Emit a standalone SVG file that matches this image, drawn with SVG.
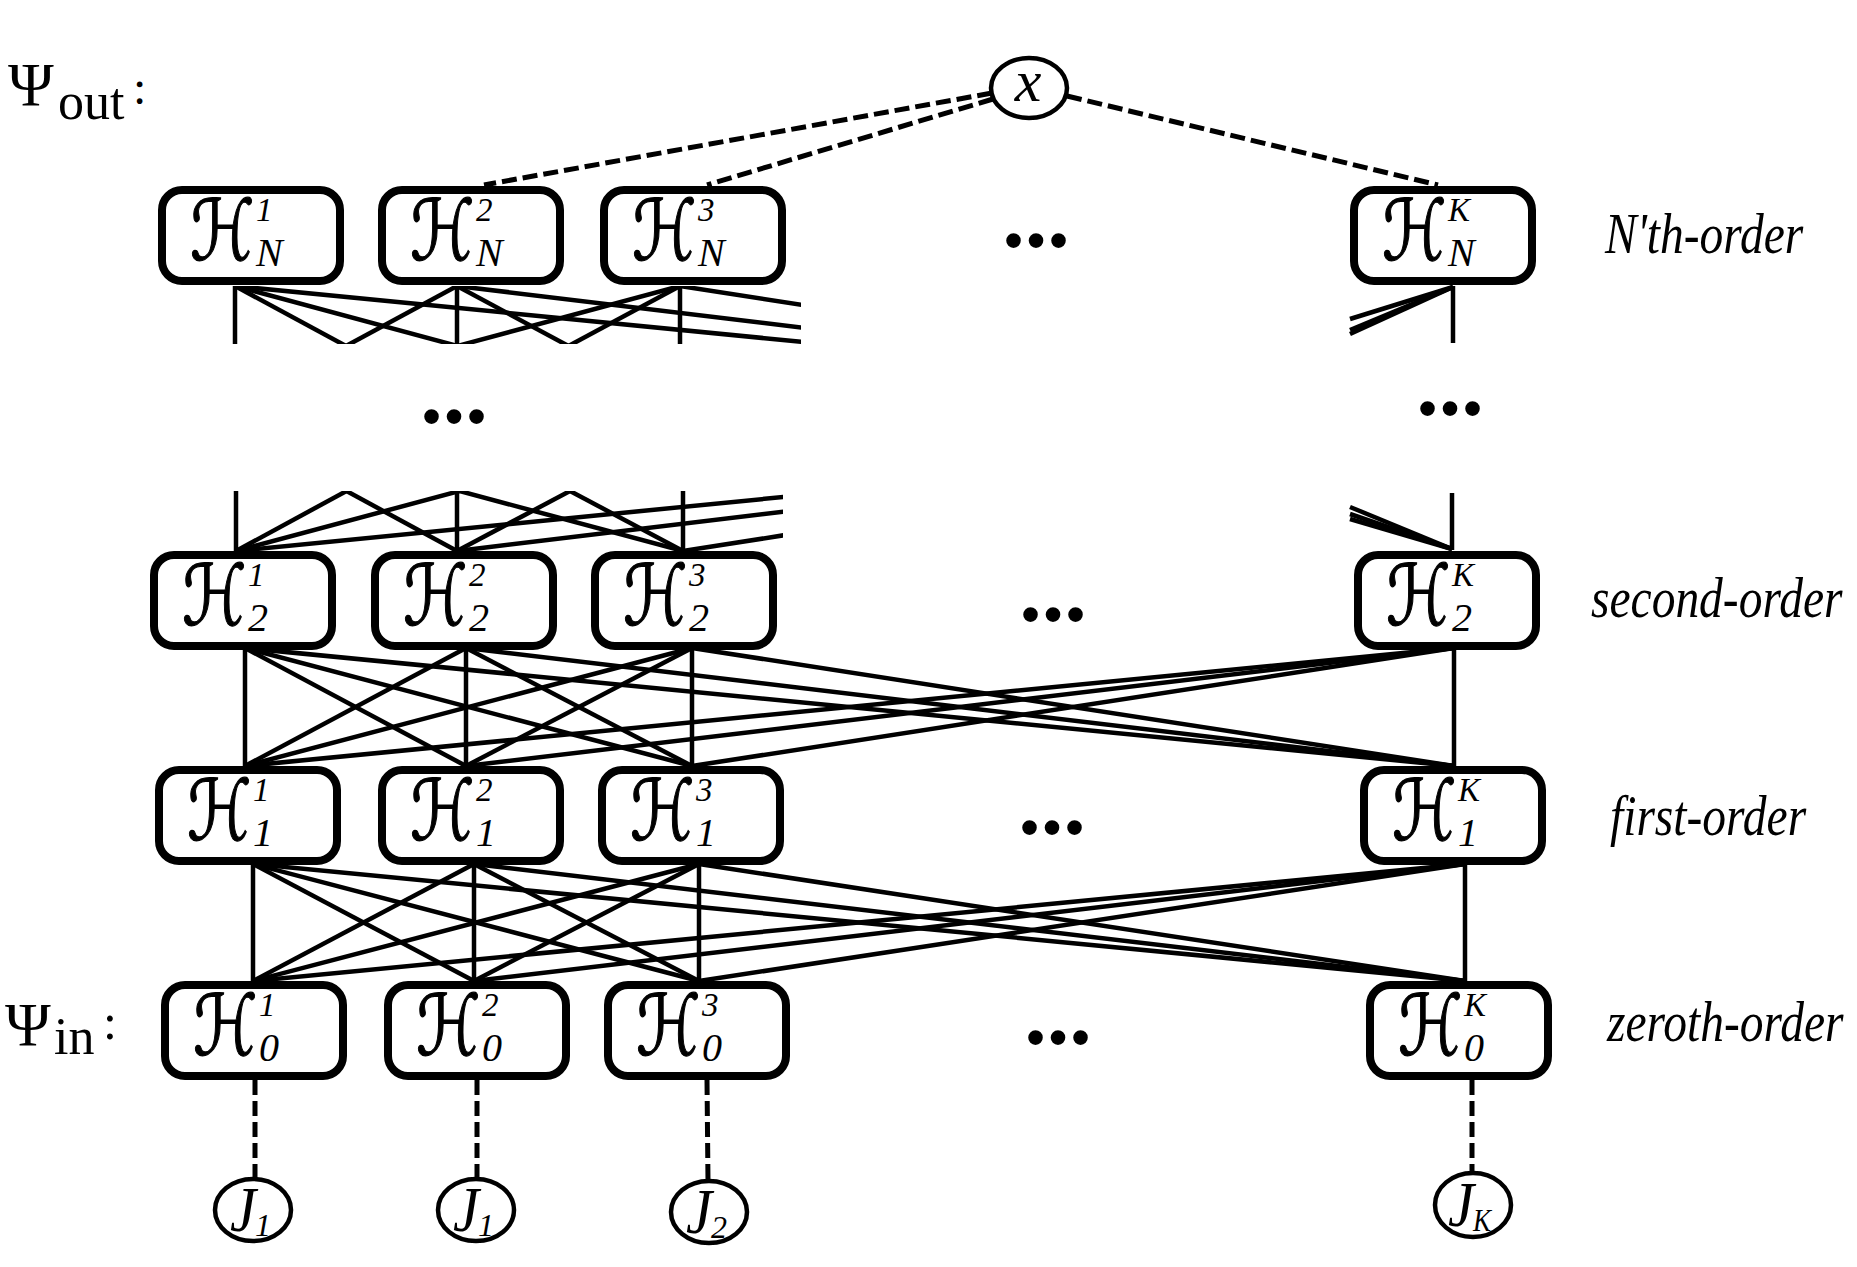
<svg xmlns="http://www.w3.org/2000/svg" width="1857" height="1267" viewBox="0 0 1857 1267">
<style>
.box{fill:#fff;stroke:#000;stroke-width:8}
.ln{stroke:#000;stroke-width:4.5;fill:none;stroke-linecap:butt}
.dash{stroke:#000;stroke-width:5;fill:none;stroke-dasharray:15 6}
.ell{fill:#fff;stroke:#000;stroke-width:4.5}
.H{font-family:"DejaVu Serif","DejaVu Sans",serif;font-size:84px;stroke:#000;stroke-width:1.2}
.sup{font-family:"Liberation Serif",serif;font-style:italic;font-size:33px}
.sub{font-family:"Liberation Serif",serif;font-style:italic;font-size:40px}
.lab{font-family:"Liberation Serif",serif;font-style:italic;font-size:47.5px}
.dots{font-family:"Liberation Serif",serif;font-weight:bold;font-size:90px;text-anchor:middle}
.psi{font-family:"Liberation Serif",serif;font-size:62px}
.psub{font-family:"Liberation Serif",serif;font-size:52px}
.J{font-family:"Liberation Serif",serif;font-style:italic;font-size:64px}
.Js{font-family:"Liberation Serif",serif;font-style:italic;font-size:32px}
text{fill:#000}
</style>
<defs>
<clipPath id="clipTop"><rect x="0" y="286" width="801" height="58"/></clipPath>
<clipPath id="clipBot"><rect x="0" y="491" width="783" height="60"/></clipPath>
</defs>

<g id="connectors">
  <line class="dash" x1="992" y1="93" x2="484" y2="185"/>
  <line class="dash" x1="993" y1="99" x2="707" y2="185"/>
  <line class="dash" x1="1067" y1="96" x2="1438" y2="185"/>
  <g clip-path="url(#clipTop)">
    <line class="ln" x1="235" y1="286" x2="235" y2="406"/>
    <line class="ln" x1="235" y1="286" x2="457" y2="406"/>
    <line class="ln" x1="235" y1="286" x2="680" y2="406"/>
    <line class="ln" x1="235" y1="286" x2="1453" y2="406"/>
    <line class="ln" x1="457" y1="286" x2="235" y2="406"/>
    <line class="ln" x1="457" y1="286" x2="457" y2="406"/>
    <line class="ln" x1="457" y1="286" x2="680" y2="406"/>
    <line class="ln" x1="457" y1="286" x2="1453" y2="406"/>
    <line class="ln" x1="680" y1="286" x2="235" y2="406"/>
    <line class="ln" x1="680" y1="286" x2="457" y2="406"/>
    <line class="ln" x1="680" y1="286" x2="680" y2="406"/>
    <line class="ln" x1="680" y1="286" x2="1453" y2="406"/>
  </g>
  <line class="ln" x1="1453" y1="286" x2="1453" y2="343"/>
  <line class="ln" x1="1453" y1="287" x2="1350" y2="319"/>
  <line class="ln" x1="1453" y1="287" x2="1350" y2="330"/>
  <line class="ln" x1="1453" y1="287" x2="1350" y2="334"/>
  <g clip-path="url(#clipBot)">
    <line class="ln" x1="236" y1="551" x2="236" y2="431"/>
    <line class="ln" x1="236" y1="551" x2="457" y2="431"/>
    <line class="ln" x1="236" y1="551" x2="683" y2="431"/>
    <line class="ln" x1="236" y1="551" x2="1452" y2="431"/>
    <line class="ln" x1="457" y1="551" x2="236" y2="431"/>
    <line class="ln" x1="457" y1="551" x2="457" y2="431"/>
    <line class="ln" x1="457" y1="551" x2="683" y2="431"/>
    <line class="ln" x1="457" y1="551" x2="1452" y2="431"/>
    <line class="ln" x1="683" y1="551" x2="236" y2="431"/>
    <line class="ln" x1="683" y1="551" x2="457" y2="431"/>
    <line class="ln" x1="683" y1="551" x2="683" y2="431"/>
    <line class="ln" x1="683" y1="551" x2="1452" y2="431"/>
  </g>
  <line class="ln" x1="1452" y1="493" x2="1452" y2="550"/>
  <line class="ln" x1="1452" y1="549" x2="1350" y2="507"/>
  <line class="ln" x1="1452" y1="549" x2="1350" y2="514"/>
  <line class="ln" x1="1452" y1="549" x2="1350" y2="519"/>
  <line class="ln" x1="245" y1="648" x2="245" y2="766"/>
  <line class="ln" x1="245" y1="648" x2="466" y2="766"/>
  <line class="ln" x1="245" y1="648" x2="692" y2="766"/>
  <line class="ln" x1="245" y1="648" x2="1454" y2="766"/>
  <line class="ln" x1="466" y1="648" x2="245" y2="766"/>
  <line class="ln" x1="466" y1="648" x2="466" y2="766"/>
  <line class="ln" x1="466" y1="648" x2="692" y2="766"/>
  <line class="ln" x1="466" y1="648" x2="1454" y2="766"/>
  <line class="ln" x1="692" y1="648" x2="245" y2="766"/>
  <line class="ln" x1="692" y1="648" x2="466" y2="766"/>
  <line class="ln" x1="692" y1="648" x2="692" y2="766"/>
  <line class="ln" x1="692" y1="648" x2="1454" y2="766"/>
  <line class="ln" x1="1454" y1="648" x2="245" y2="766"/>
  <line class="ln" x1="1454" y1="648" x2="466" y2="766"/>
  <line class="ln" x1="1454" y1="648" x2="692" y2="766"/>
  <line class="ln" x1="1454" y1="648" x2="1454" y2="766"/>
  <line class="ln" x1="253" y1="864" x2="253" y2="981"/>
  <line class="ln" x1="253" y1="864" x2="474" y2="981"/>
  <line class="ln" x1="253" y1="864" x2="699" y2="981"/>
  <line class="ln" x1="253" y1="864" x2="1465" y2="981"/>
  <line class="ln" x1="474" y1="864" x2="253" y2="981"/>
  <line class="ln" x1="474" y1="864" x2="474" y2="981"/>
  <line class="ln" x1="474" y1="864" x2="699" y2="981"/>
  <line class="ln" x1="474" y1="864" x2="1465" y2="981"/>
  <line class="ln" x1="699" y1="864" x2="253" y2="981"/>
  <line class="ln" x1="699" y1="864" x2="474" y2="981"/>
  <line class="ln" x1="699" y1="864" x2="699" y2="981"/>
  <line class="ln" x1="699" y1="864" x2="1465" y2="981"/>
  <line class="ln" x1="1465" y1="864" x2="253" y2="981"/>
  <line class="ln" x1="1465" y1="864" x2="474" y2="981"/>
  <line class="ln" x1="1465" y1="864" x2="699" y2="981"/>
  <line class="ln" x1="1465" y1="864" x2="1465" y2="981"/>
  <line class="dash" x1="255" y1="1080" x2="255" y2="1179"/>
  <line class="dash" x1="477" y1="1080" x2="477" y2="1179"/>
  <line class="dash" x1="707" y1="1080" x2="708" y2="1181"/>
  <line class="dash" x1="1472" y1="1080" x2="1472" y2="1173"/>
</g>

<text id="psi-out"><tspan class="psi" x="8" y="105">Ψ</tspan><tspan class="psub" x="58" y="119">out</tspan><tspan class="psi" x="133" y="104" style="font-size:48px">:</tspan></text>
<text id="psi-in"><tspan class="psi" x="5" y="1045">Ψ</tspan><tspan class="psub" x="54" y="1054">in</tspan><tspan class="psi" x="103" y="1039" style="font-size:50px">:</tspan></text>
<text class="lab" transform="translate(1605,253) scale(1,1.22)">N'th-order</text>
<text class="lab" transform="translate(1591,617) scale(1,1.22)">second-order</text>
<text class="lab" transform="translate(1610,835) scale(1,1.22)">first-order</text>
<text class="lab" transform="translate(1607,1041) scale(1,1.22)">zeroth-order</text>

<text class="dots" x="1036" y="247">...</text>
<text class="dots" x="454" y="423">...</text>
<text class="dots" x="1450" y="415">...</text>
<text class="dots" x="1053" y="621">...</text>
<text class="dots" x="1052" y="834">...</text>
<text class="dots" x="1058" y="1044">...</text>

<g id="x-node"><ellipse class="ell" cx="1029" cy="88" rx="38" ry="30"/><text x="1028" y="101" text-anchor="middle" style="font-family:'Liberation Serif',serif;font-style:italic;font-size:60px">x</text></g>

<g id="HN1"><rect class="box" x="162" y="190" width="178" height="91" rx="20"/><text class="H" transform="translate(190,260) scale(0.78,1)">ℋ</text><text class="sup" x="256" y="221">1</text><text class="sub" x="256" y="266">N</text></g>
<g id="HN2"><rect class="box" x="382" y="190" width="178" height="91" rx="20"/><text class="H" transform="translate(410,260) scale(0.78,1)">ℋ</text><text class="sup" x="476" y="221">2</text><text class="sub" x="476" y="266">N</text></g>
<g id="HN3"><rect class="box" x="604" y="190" width="178" height="91" rx="20"/><text class="H" transform="translate(632,260) scale(0.78,1)">ℋ</text><text class="sup" x="698" y="221">3</text><text class="sub" x="698" y="266">N</text></g>
<g id="HNK"><rect class="box" x="1354" y="190" width="178" height="91" rx="20"/><text class="H" transform="translate(1382,260) scale(0.78,1)">ℋ</text><text class="sup" x="1448" y="221">K</text><text class="sub" x="1448" y="266">N</text></g>

<g id="H21"><rect class="box" x="154" y="555" width="178" height="91" rx="20"/><text class="H" transform="translate(182,625) scale(0.78,1)">ℋ</text><text class="sup" x="248" y="586">1</text><text class="sub" x="248" y="631">2</text></g>
<g id="H22"><rect class="box" x="375" y="555" width="178" height="91" rx="20"/><text class="H" transform="translate(403,625) scale(0.78,1)">ℋ</text><text class="sup" x="469" y="586">2</text><text class="sub" x="469" y="631">2</text></g>
<g id="H23"><rect class="box" x="595" y="555" width="178" height="91" rx="20"/><text class="H" transform="translate(623,625) scale(0.78,1)">ℋ</text><text class="sup" x="689" y="586">3</text><text class="sub" x="689" y="631">2</text></g>
<g id="H2K"><rect class="box" x="1358" y="555" width="178" height="91" rx="20"/><text class="H" transform="translate(1386,625) scale(0.78,1)">ℋ</text><text class="sup" x="1452" y="586">K</text><text class="sub" x="1452" y="631">2</text></g>

<g id="H11"><rect class="box" x="159" y="770" width="178" height="91" rx="20"/><text class="H" transform="translate(187,840) scale(0.78,1)">ℋ</text><text class="sup" x="253" y="801">1</text><text class="sub" x="253" y="846">1</text></g>
<g id="H12"><rect class="box" x="382" y="770" width="178" height="91" rx="20"/><text class="H" transform="translate(410,840) scale(0.78,1)">ℋ</text><text class="sup" x="476" y="801">2</text><text class="sub" x="476" y="846">1</text></g>
<g id="H13"><rect class="box" x="602" y="770" width="178" height="91" rx="20"/><text class="H" transform="translate(630,840) scale(0.78,1)">ℋ</text><text class="sup" x="696" y="801">3</text><text class="sub" x="696" y="846">1</text></g>
<g id="H1K"><rect class="box" x="1364" y="770" width="178" height="91" rx="20"/><text class="H" transform="translate(1392,840) scale(0.78,1)">ℋ</text><text class="sup" x="1458" y="801">K</text><text class="sub" x="1458" y="846">1</text></g>

<g id="H01"><rect class="box" x="165" y="985" width="178" height="91" rx="20"/><text class="H" transform="translate(193,1055) scale(0.78,1)">ℋ</text><text class="sup" x="259" y="1016">1</text><text class="sub" x="259" y="1061">0</text></g>
<g id="H02"><rect class="box" x="388" y="985" width="178" height="91" rx="20"/><text class="H" transform="translate(416,1055) scale(0.78,1)">ℋ</text><text class="sup" x="482" y="1016">2</text><text class="sub" x="482" y="1061">0</text></g>
<g id="H03"><rect class="box" x="608" y="985" width="178" height="91" rx="20"/><text class="H" transform="translate(636,1055) scale(0.78,1)">ℋ</text><text class="sup" x="702" y="1016">3</text><text class="sub" x="702" y="1061">0</text></g>
<g id="H0K"><rect class="box" x="1370" y="985" width="178" height="91" rx="20"/><text class="H" transform="translate(1398,1055) scale(0.78,1)">ℋ</text><text class="sup" x="1464" y="1016">K</text><text class="sub" x="1464" y="1061">0</text></g>

<g id="J1a"><ellipse class="ell" cx="253" cy="1210" rx="38" ry="31"/><text><tspan class="J" x="230" y="1231" textLength="26" lengthAdjust="spacingAndGlyphs">J</tspan><tspan class="Js" x="255" y="1236">1</tspan></text></g>
<g id="J1b"><ellipse class="ell" cx="476" cy="1210" rx="38" ry="31"/><text><tspan class="J" x="453" y="1231" textLength="26" lengthAdjust="spacingAndGlyphs">J</tspan><tspan class="Js" x="478" y="1236">1</tspan></text></g>
<g id="J2"><ellipse class="ell" cx="709" cy="1212" rx="38" ry="31"/><text><tspan class="J" x="686" y="1233" textLength="26" lengthAdjust="spacingAndGlyphs">J</tspan><tspan class="Js" x="711" y="1238">2</tspan></text></g>
<g id="JK"><ellipse class="ell" cx="1473" cy="1205" rx="38" ry="32"/><text><tspan class="J" x="1448" y="1226" textLength="26" lengthAdjust="spacingAndGlyphs">J</tspan><tspan class="Js" x="1473" y="1231" textLength="18" lengthAdjust="spacingAndGlyphs">K</tspan></text></g>
</svg>
